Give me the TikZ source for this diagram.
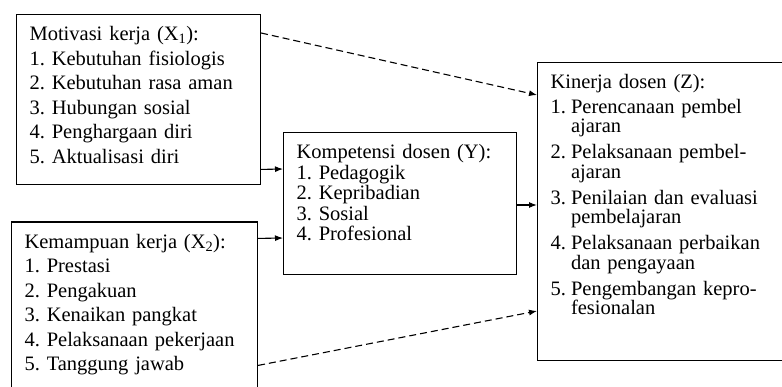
\documentclass[tikz,border=0pt]{standalone}
\usepackage{fontspec}
\setmainfont{Liberation Serif}
\usetikzlibrary{positioning}
\usetikzlibrary{arrows.meta}
\frenchspacing
\newcommand{\zitem}[1]{\makebox[1em][l]{#1}}

\begin{document}
\begin{tikzpicture}[x=1pt, y=-1pt,
  box/.style = {shape=rectangle, draw, line width=1.1pt, anchor=north west, align=left,
    inner xsep=13pt, inner ysep=12pt, font=\fontsize{20.5}{24.5}\selectfont},
  arr/.style = {line width=1.1pt, -{Latex[length=8pt, width=6pt]}},
  dasharr/.style = {arr, dash pattern=on 7pt off 4pt}]
  \useasboundingbox (0,0) rectangle (782,387);
  \clip (0,0) rectangle (782,387);
  \node[box, text width=218pt] (x1) at (16,14) {Motivasi kerja (X\textsubscript{1}):\\
    1. Kebutuhan fisiologis\\ 2. Kebutuhan rasa aman\\ 3. Hubungan sosial\\
    4. Penghargaan diri\\ 5. Aktualisasi diri\rule[-9.6pt]{0pt}{0pt}};
  \node[box, text width=220pt, below=36pt of x1.south west, anchor=north west, xshift=-5pt] (x2)
    {Kemampuan kerja (X\textsubscript{2}):\\ 1. Prestasi\\ 2. Pengakuan\\ 3. Kenaikan pangkat\\
    4. Pelaksanaan pekerjaan\\ 5. Tanggung jawab\rule[-9.6pt]{0pt}{0pt}};
  \node[box, text width=207pt, font=\fontsize{20.5}{20.5}\selectfont] (y) at (283,132)
    {Kompetensi dosen (Y):\\ 1. Pedagogik\\ 2. Kepribadian\\ 3. Sosial\\
    4. Profesional\rule[-22pt]{0pt}{0pt}};
  \node[box, text width=234pt, font=\fontsize{20.5}{19.5}\selectfont] (z) at (537,62)
    {Kinerja dosen (Z):\\[5pt]
    \zitem{1.}Perencanaan pembel\\ \zitem{}ajaran\\[6.5pt]
    \zitem{2.}Pelaksanaan pembel-\\ \zitem{}ajaran\\[6.5pt]
    \zitem{3.}Penilaian dan evaluasi\\ \zitem{}pembelajaran\\[6.5pt]
    \zitem{4.}Pelaksanaan perbaikan\\ \zitem{}dan pengayaan\\[6.5pt]
    \zitem{5.}Pengembangan kepro-\\ \zitem{}fesionalan\rule[-34pt]{0pt}{0pt}};
  % paths
  \draw[dasharr] ([yshift=-19pt]x1.north east) -- ([yshift=-33pt]z.north west);
  \draw[arr] ([yshift=16pt]x1.south east) -- ([yshift=-37pt]y.north west);
  \draw[arr] ([yshift=-17pt]x2.north east) -- ([yshift=-106pt]y.north west);
  \draw[arr] ([yshift=-73pt]y.north east) -- ([yshift=-143pt]z.north west);
  \draw[dasharr] ([yshift=-144pt]x2.north east) -- ([yshift=-249pt]z.north west);
\end{tikzpicture}
\end{document}
